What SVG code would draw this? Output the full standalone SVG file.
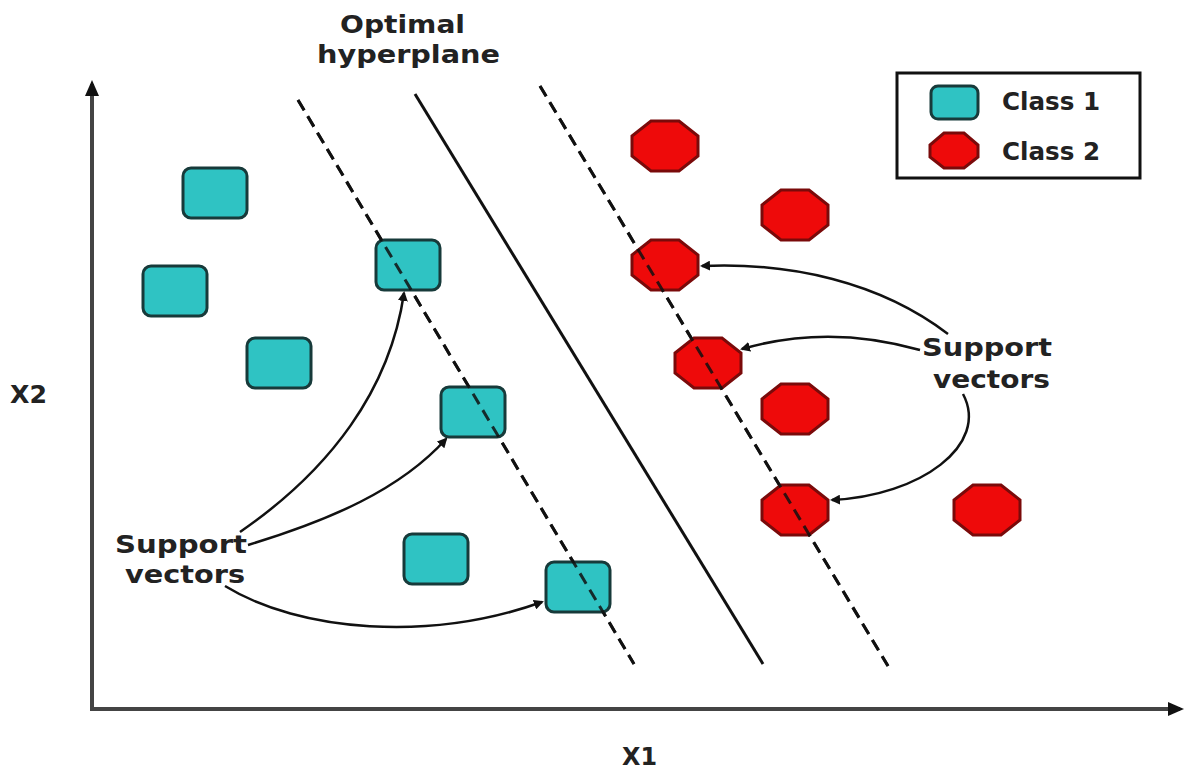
<svg xmlns="http://www.w3.org/2000/svg" xmlns:xlink="http://www.w3.org/1999/xlink" width="1192" height="771" viewBox="0 0 1192 771">
<style>
.c1{fill:#2fc3c3;stroke:#173a3a;stroke-width:3}
.c2{fill:#ee0a0a;stroke:#7a0a0a;stroke-width:3}
.txt{font-family:"DejaVu Sans","Liberation Sans",Arial,sans-serif;font-weight:bold;font-size:24px;fill:#222}
.axis{stroke:#444;stroke-width:4;fill:none}
.dash{stroke:#111;stroke-width:3;stroke-dasharray:12 7;fill:none}
.solid{stroke:#111;stroke-width:3;fill:none}
.arr{stroke:#111;stroke-width:2.5;fill:none;marker-end:url(#ah)}
</style>
<defs>
<marker id="ah" markerWidth="10" markerHeight="10" refX="8" refY="5" orient="auto" markerUnits="userSpaceOnUse" viewBox="0 0 10 10">
<path d="M0,0 L10,5 L0,10 z" fill="#111"/>
</marker>
<marker id="axh" markerWidth="16" markerHeight="14" refX="12" refY="7" orient="auto" markerUnits="userSpaceOnUse">
<path d="M0,0 L16,7 L0,14 z" fill="#111"/>
</marker>
<rect id="sq" x="-32" y="-25" width="64" height="50" rx="8"/>
<polygon id="oct" points="-14,-25 14,-25 33,-10 33,10 14,25 -14,25 -33,10 -33,-10"/>
</defs>
<rect width="1192" height="771" fill="#fff"/>

<g id="axes">
<line class="axis" x1="92" y1="710" x2="92" y2="84" marker-end="url(#axh)"/>
<line class="axis" x1="90" y1="709" x2="1180" y2="709" marker-end="url(#axh)"/>
<text class="txt" x="10" y="403" font-size="20" textLength="37" lengthAdjust="spacingAndGlyphs">X2</text>
<text class="txt" x="622" y="765" font-size="20" textLength="35" lengthAdjust="spacingAndGlyphs">X1</text>
</g>

<g id="hyperplanes">
<line class="dash" x1="298" y1="100" x2="634" y2="664"/>
<line class="solid" x1="415" y1="94" x2="763" y2="664"/>
<line class="dash" x1="540" y1="86" x2="888" y2="666"/>
</g>

<g id="label-hyperplane">
<text class="txt" x="340" y="33" textLength="125" lengthAdjust="spacingAndGlyphs">Optimal</text>
<text class="txt" x="317" y="63" textLength="183" lengthAdjust="spacingAndGlyphs">hyperplane</text>
</g>

<g id="class1">
<g id="s1"><use href="#sq" class="c1" x="215" y="193"/></g>
<g id="s2"><use href="#sq" class="c1" x="175" y="291"/></g>
<g id="s3"><use href="#sq" class="c1" x="279" y="363"/></g>
<g id="s4"><use href="#sq" class="c1" x="408" y="265"/></g>
<g id="s5"><use href="#sq" class="c1" x="473" y="412"/></g>
<g id="s6"><use href="#sq" class="c1" x="436" y="559"/></g>
<g id="s7"><use href="#sq" class="c1" x="578" y="587"/></g>
</g>

<g id="class2">
<g id="o1"><use href="#oct" class="c2" x="665" y="146"/></g>
<g id="o2"><use href="#oct" class="c2" x="795" y="215"/></g>
<g id="o3"><use href="#oct" class="c2" x="665" y="265"/></g>
<g id="o4"><use href="#oct" class="c2" x="708" y="363"/></g>
<g id="o5"><use href="#oct" class="c2" x="795" y="409"/></g>
<g id="o6"><use href="#oct" class="c2" x="795" y="510"/></g>
<g id="o7"><use href="#oct" class="c2" x="987" y="510"/></g>
</g>

<g id="hyperplane-overlay">
<line class="dash" x1="298" y1="100" x2="634" y2="664" opacity="0.85"/>
<line class="dash" x1="540" y1="86" x2="888" y2="666" opacity="0.85"/>
</g>

<g id="connectors">
<path class="arr" d="M240,532 C330,470 390,390 404,293"/>
<path class="arr" d="M248,545 C330,520 400,490 446,439"/>
<path class="arr" d="M225,586 C300,632 430,642 542,602"/>
<path class="arr" d="M948,334 C880,282 790,262 702,266"/>
<path class="arr" d="M920,350 C850,330 790,335 742,349"/>
<path class="arr" d="M963,394 C990,445 920,496 832,500"/>
</g>

<g id="label-sv-left">
<text class="txt" x="115" y="553" textLength="132" lengthAdjust="spacingAndGlyphs">Support</text>
<text class="txt" x="125" y="583" textLength="120" lengthAdjust="spacingAndGlyphs">vectors</text>
</g>
<g id="label-sv-right">
<text class="txt" x="922" y="356" textLength="130" lengthAdjust="spacingAndGlyphs">Support</text>
<text class="txt" x="933" y="388" textLength="117" lengthAdjust="spacingAndGlyphs">vectors</text>
</g>

<g id="legend">
<rect x="897" y="73" width="243" height="105" fill="#fff" stroke="#111" stroke-width="3"/>
<rect class="c1" x="931" y="86" width="47" height="33" rx="7"/>
<polygon class="c2" points="944,133 964,133 978,145 978,157 964,168 944,168 930,157 930,145"/>
<text class="txt" x="1002" y="110" font-size="20" textLength="98" lengthAdjust="spacingAndGlyphs">Class 1</text>
<text class="txt" x="1002" y="160" font-size="20" textLength="98" lengthAdjust="spacingAndGlyphs">Class 2</text>
</g>
</svg>
